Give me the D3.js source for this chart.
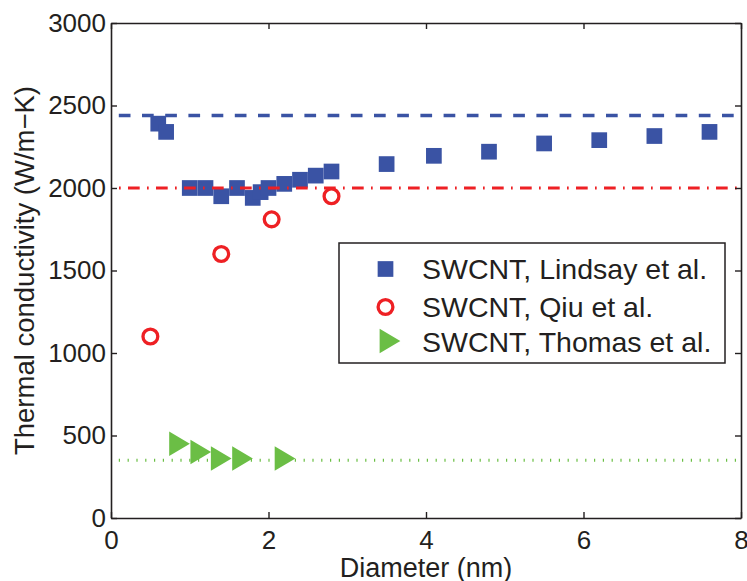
<!DOCTYPE html>
<html>
<head>
<meta charset="utf-8">
<script src="https://cdn.jsdelivr.net/npm/d3@7"></script>
<style>
  body { margin: 0; background: #fff; }
  svg text { font-family: "Liberation Sans", Arial, Helvetica, sans-serif; fill: #231f20; }
</style>
</head>
<body>
<svg id="chart" width="747" height="581"></svg>
<script>
// Thermal conductivity of single-walled carbon nanotubes vs. diameter
const lindsayDiameter = [0.6, 0.7, 1.0, 1.2, 1.4, 1.6, 1.8, 1.9, 2.0, 2.2, 2.4, 2.6, 2.8, 3.5, 4.1, 4.8, 5.5, 6.2, 6.9, 7.6];
const lindsayK        = [2390, 2340, 2000, 2000, 1950, 2000, 1940, 1975, 2000, 2025, 2050, 2075, 2100, 2145, 2195, 2220, 2270, 2290, 2315, 2340];
const qiuDiameter = [0.5, 1.4, 2.04, 2.8];
const qiuK        = [1100, 1600, 1810, 1950];
const thomasDiameter = [0.87, 1.14, 1.40, 1.67, 2.21];
const thomasK        = [450, 400, 360, 360, 360];

// Horizontal reference levels for each study
const lindsayLevel = 2440;
const qiuLevel = 2000;
const thomasLevel = 350;

const xTicks = [0, 2, 4, 6, 8];
const yTicks = [0, 500, 1000, 1500, 2000, 2500, 3000];
const legendLabels = ["SWCNT, Lindsay et al.", "SWCNT, Qiu et al.", "SWCNT, Thomas et al."];

const blue = "#3a53a4", red = "#ee2024", green = "#6bbe45", ink = "#231f20";

const W = 747, H = 581;
const margin = { left: 111, right: 6, top: 23, bottom: 63 };
const svg = d3.select("#chart");

const x = d3.scaleLinear().domain([0, 8]).range([margin.left, W - margin.right]);
const y = d3.scaleLinear().domain([0, 3000]).range([H - margin.bottom, margin.top]);

// Dashed reference lines (drawn before the markers)
const refs = [
  { v: lindsayLevel, color: blue,  width: 3.5, dash: "11.7 11.5", offset: 15.4 },
  { v: thomasLevel,  color: green, width: 3,   dash: "1.2 7.6",   offset: 1.0 }
];
svg.selectAll("line.ref").data(refs).enter().append("line")
  .attr("class", "ref")
  .attr("x1", x(0)).attr("x2", x(8))
  .attr("y1", d => y(d.v)).attr("y2", d => y(d.v))
  .attr("stroke", d => d.color).attr("stroke-width", d => d.width)
  .attr("stroke-dasharray", d => d.dash).attr("stroke-dashoffset", d => d.offset);

const sq = 15.7;
const lindsay = lindsayDiameter.map((d, i) => ({ d, k: lindsayK[i] }));
svg.append("g").selectAll("rect").data(lindsay).enter().append("rect")
  .attr("x", p => x(p.d) - sq / 2).attr("y", p => y(p.k) - sq / 2)
  .attr("width", sq).attr("height", sq).attr("fill", blue);

// Dash-dot level drawn over the squares
svg.append("line")
  .attr("x1", x(0)).attr("x2", x(8))
  .attr("y1", y(qiuLevel)).attr("y2", y(qiuLevel))
  .attr("stroke", red).attr("stroke-width", 3)
  .attr("stroke-dasharray", "11.7 7.3 1.7 7.3").attr("stroke-dashoffset", 11);

const qiu = qiuDiameter.map((d, i) => ({ d, k: qiuK[i] }));
svg.append("g").selectAll("circle").data(qiu).enter().append("circle")
  .attr("cx", p => x(p.d)).attr("cy", p => y(p.k)).attr("r", 7.4)
  .attr("fill", "none").attr("stroke", red).attr("stroke-width", 3.3);

const triW = 20.7, triH = 24.5;
const triPath = `M${-triW / 2},${-triH / 2}L${triW / 2},0L${-triW / 2},${triH / 2}Z`;
const thomas = thomasDiameter.map((d, i) => ({ d, k: thomasK[i] }));
svg.append("g").selectAll("path").data(thomas).enter().append("path")
  .attr("d", triPath)
  .attr("transform", p => `translate(${x(p.d)},${y(p.k)})`)
  .attr("fill", green);

// Boxed axes with inward ticks on all sides
const fontSize = 26;
const styleAxis = g => {
  g.select(".domain").attr("stroke", ink).attr("stroke-width", 1.6);
  g.selectAll(".tick line").attr("stroke", ink).attr("stroke-width", 1.4);
  g.selectAll(".tick text").attr("font-size", fontSize).attr("fill", ink).attr("font-family", null);
};
svg.append("g").attr("transform", `translate(0,${y(0)})`)
  .call(d3.axisBottom(x).tickValues(xTicks).tickSize(-6).tickSizeOuter(0).tickPadding(13).tickFormat(d3.format("d")))
  .call(styleAxis);
svg.append("g").attr("transform", `translate(${x(0)},0)`)
  .call(d3.axisLeft(y).tickValues(yTicks).tickSize(-6).tickSizeOuter(0).tickPadding(5).tickFormat(d3.format("d")))
  .call(styleAxis);
svg.append("g").attr("transform", `translate(0,${y(3000)})`)
  .call(d3.axisTop(x).tickValues(xTicks).tickSize(-6).tickSizeOuter(0).tickFormat(""))
  .call(styleAxis);
svg.append("g").attr("transform", `translate(${x(8)},0)`)
  .call(d3.axisRight(y).tickValues(yTicks).tickSize(-6).tickSizeOuter(0).tickFormat(""))
  .call(styleAxis);

// Axis titles
svg.append("text")
  .attr("x", (x(0) + x(8)) / 2).attr("y", 577)
  .attr("text-anchor", "middle").attr("font-size", 27)
  .text("Diameter (nm)");
svg.append("text")
  .attr("transform", `translate(34,${(y(0) + y(3000)) / 2}) rotate(-90)`)
  .attr("text-anchor", "middle").attr("font-size", 27.5)
  .text("Thermal conductivity (W/m\u2212K)");

// Legend
const lg = svg.append("g");
lg.append("rect").attr("x", 339).attr("y", 243).attr("width", 386).attr("height", 120)
  .attr("fill", "#fff").attr("stroke", ink).attr("stroke-width", 1.5);
const rowY = [269, 307, 341];
const baseY = [279, 317, 351.5];
lg.append("rect").attr("x", 385.5 - sq / 2).attr("y", rowY[0] - sq / 2).attr("width", sq).attr("height", sq).attr("fill", blue);
lg.append("circle").attr("cx", 385.5).attr("cy", rowY[1]).attr("r", 7.4)
  .attr("fill", "none").attr("stroke", red).attr("stroke-width", 3.3);
lg.append("path").attr("d", triPath).attr("transform", `translate(390,${rowY[2]})`).attr("fill", green);
lg.selectAll("text").data(legendLabels).enter().append("text")
  .attr("x", 422).attr("y", (d, i) => baseY[i])
  .attr("font-size", 28.5)
  .text(d => d);
</script>
</body>
</html>
